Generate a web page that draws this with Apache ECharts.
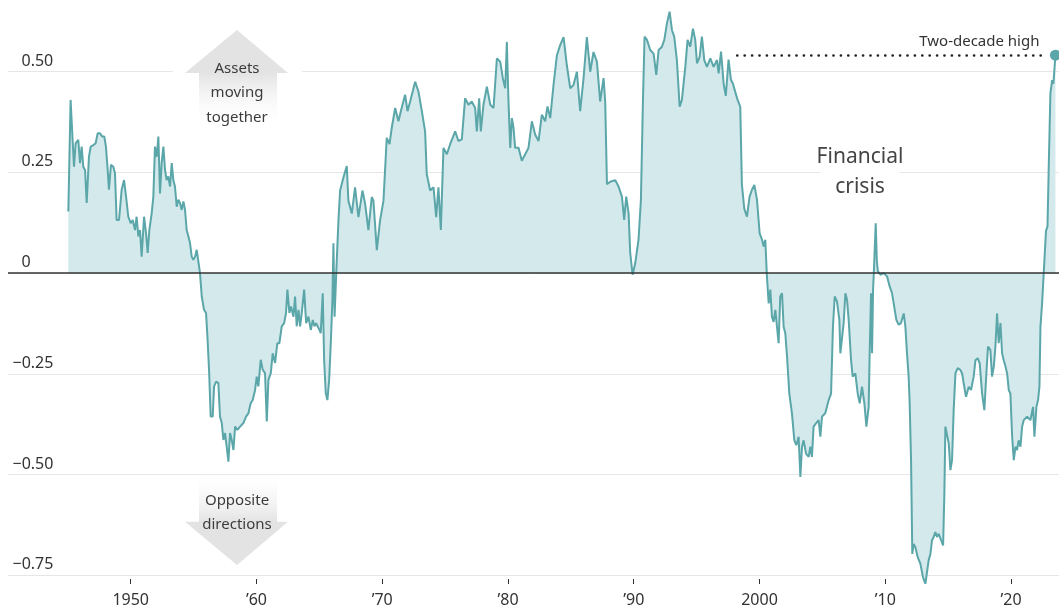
<!DOCTYPE html>
<html><head><meta charset="utf-8">
<script src="https://cdn.jsdelivr.net/npm/echarts@6/dist/echarts.min.js"></script>
<style>html,body{margin:0;padding:0;background:#fff}#c{width:1059px;height:614px}</style>
</head><body><div id="c"></div>
<script>
// Correlation of stocks and bonds (rolling), year vs value
const years = [
1945.04,1945.22,1945.38,1945.49,1945.62,1945.83,1945.97,1946.10,1946.23,1946.37,
1946.50,1946.68,1946.82,1947.03,1947.21,1947.37,1947.56,1947.74,1947.90,1948.03,
1948.17,1948.27,1948.43,1948.62,1948.75,1948.88,1949.07,1949.28,1949.47,1949.63,
1949.81,1950.00,1950.16,1950.34,1950.47,1950.61,1950.74,1950.87,1951.06,1951.22,
1951.35,1951.48,1951.67,1951.80,1951.93,1952.07,1952.20,1952.33,1952.46,1952.60,
1952.73,1952.86,1952.99,1953.13,1953.26,1953.39,1953.52,1953.66,1953.79,1953.92,
1954.05,1954.19,1954.32,1954.45,1954.59,1954.72,1954.85,1954.98,1955.12,1955.25,1955.38,1955.51,
1955.65,1955.83,1955.99,1956.10,1956.23,1956.36,1956.52,1956.63,1956.79,1956.97,
1957.10,1957.24,1957.37,1957.50,1957.63,1957.77,1957.90,1958.03,1958.17,1958.30,
1958.48,1958.70,1958.96,1959.17,1959.36,1959.54,1959.70,1959.89,1960.02,1960.15,
1960.34,1960.50,1960.68,1960.82,1960.95,1961.14,1961.29,1961.48,1961.66,1961.82,
1962.01,1962.20,1962.35,1962.46,1962.62,1962.75,1962.94,1963.07,1963.20,1963.34,
1963.47,1963.60,1963.79,1963.95,1964.13,1964.32,1964.48,1964.61,1964.74,1964.87,1965.01,1965.11,
1965.27,1965.38,1965.51,1965.64,1965.78,1965.91,1966.04,1966.12,1966.21,1966.37,
1966.52,1966.65,1966.92,1967.18,1967.31,1967.58,1967.84,1968.11,1968.43,1968.64,
1968.90,1969.17,1969.30,1969.57,1969.83,1970.10,1970.36,1970.58,1970.76,1971.03,
1971.29,1971.48,1971.82,1972.01,1972.22,1972.62,1972.88,1973.15,1973.41,1973.54,
1973.81,1974.08,1974.29,1974.47,1974.66,1974.87,1975.14,1975.40,1975.80,1976.06,
1976.33,1976.59,1976.86,1977.12,1977.39,1977.52,1977.71,1977.84,1978.05,1978.32,
1978.59,1978.85,1979.12,1979.38,1979.59,1979.78,1979.91,1980.04,1980.18,1980.31,
1980.44,1980.57,1980.84,1981.10,1981.37,1981.63,1981.90,1982.16,1982.43,1982.69,
1982.96,1983.14,1983.36,1983.62,1983.89,1984.15,1984.42,1984.68,1984.95,1985.21,
1985.48,1985.74,1986.01,1986.27,1986.54,1986.80,1987.07,1987.33,1987.60,1987.73,1987.87,
1988.13,1988.53,1988.79,1989.06,1989.24,1989.40,1989.59,1989.72,1989.91,1990.12,
1990.38,1990.57,1990.73,1990.86,1991.05,1991.31,1991.58,1991.79,1991.98,1992.24,1992.43,
1992.64,1992.85,1993.04,1993.22,1993.43,1993.65,1993.83,1994.10,1994.28,1994.49,
1994.71,1994.89,1995.03,1995.24,1995.42,1995.61,1995.82,1996.09,1996.35,1996.62,1996.75,
1996.94,1997.15,1997.32,1997.54,1997.73,1997.89,1998.07,1998.26,1998.47,1998.60,
1998.79,1999.00,1999.21,1999.40,1999.59,1999.80,2000.01,2000.20,2000.33,2000.46,2000.59,
2000.73,2000.86,2000.99,2001.12,2001.26,2001.39,2001.52,2001.65,2001.79,2001.92,
2002.05,2002.19,2002.37,2002.58,2002.77,2002.93,2003.11,2003.25,2003.38,2003.51,
2003.70,2003.91,2004.04,2004.17,2004.30,2004.49,2004.70,2004.84,2004.97,2005.23,
2005.50,2005.69,2005.84,2005.98,2006.16,2006.35,2006.43,2006.56,2006.69,2006.83,
2006.96,2007.09,2007.28,2007.41,2007.62,2007.81,2007.97,2008.15,2008.34,2008.50,
2008.68,2008.76,2008.87,2008.95,2009.03,2009.09,2009.24,2009.33,2009.41,2009.61,2009.87,
2010.14,2010.35,2010.54,2010.67,2010.88,2011.07,2011.25,2011.47,2011.60,2011.73,
2011.86,2011.94,2012.05,2012.15,2012.26,2012.39,2012.58,2012.79,2013.00,2013.19,
2013.32,2013.45,2013.59,2013.72,2013.85,2013.98,2014.12,2014.25,2014.44,2014.60,
2014.70,2014.78,2014.92,2015.05,2015.18,2015.31,2015.44,2015.58,2015.76,2015.97,
2016.11,2016.24,2016.42,2016.64,2016.82,2017.03,2017.17,2017.35,2017.51,2017.70,
2017.88,2018.04,2018.17,2018.36,2018.49,2018.63,2018.76,2018.89,2019.02,2019.16,
2019.29,2019.42,2019.56,2019.69,2019.82,2019.95,2020.09,2020.22,2020.35,2020.48,
2020.61,2020.75,2020.88,2021.01,2021.28,2021.54,2021.75,2021.86,2022.02,2022.15,
2022.26,2022.34,2022.47,2022.60,2022.78,2022.90,2023.00,2023.13,2023.27,2023.37,2023.53
];
const corr = [
0.153,0.430,0.331,0.264,0.322,0.331,0.273,0.314,0.264,0.256,
0.174,0.289,0.314,0.318,0.322,0.347,0.347,0.339,0.339,0.314,
0.256,0.207,0.269,0.264,0.248,0.132,0.132,0.207,0.231,0.190,
0.140,0.124,0.132,0.107,0.140,0.091,0.107,0.041,0.140,0.099,
0.050,0.107,0.149,0.190,0.314,0.289,0.339,0.198,0.273,0.314,
0.256,0.231,0.240,0.215,0.273,0.231,0.215,0.165,0.182,0.174,
0.157,0.178,0.157,0.107,0.091,0.074,0.041,0.033,0.041,0.058,0.062,0.000,
-0.058,-0.091,-0.099,-0.157,-0.240,-0.356,-0.356,-0.281,-0.269,-0.273,
-0.356,-0.372,-0.414,-0.397,-0.430,-0.468,-0.397,-0.414,-0.439,-0.381,
-0.389,-0.381,-0.372,-0.356,-0.348,-0.323,-0.315,-0.290,-0.257,-0.281,
-0.215,-0.240,-0.248,-0.368,-0.265,-0.248,-0.199,-0.223,-0.174,-0.174,
-0.132,-0.124,-0.099,-0.041,-0.099,-0.083,-0.108,-0.058,-0.132,-0.091,
-0.132,-0.099,-0.041,-0.124,-0.108,-0.141,-0.116,-0.132,-0.124,-0.132,-0.141,-0.149,
-0.050,-0.215,-0.298,-0.315,-0.265,-0.174,-0.066,0.074,-0.108,0.020,
0.131,0.205,0.238,0.266,0.180,0.148,0.213,0.139,0.205,0.172,
0.107,0.189,0.180,0.057,0.131,0.180,0.336,0.320,0.361,0.410,
0.377,0.402,0.443,0.402,0.426,0.475,0.451,0.402,0.352,0.246,
0.205,0.213,0.139,0.213,0.107,0.311,0.295,0.320,0.352,0.328,
0.332,0.434,0.418,0.426,0.410,0.352,0.434,0.352,0.418,0.463,
0.418,0.410,0.533,0.525,0.484,0.459,0.574,0.426,0.311,0.385,
0.361,0.311,0.311,0.279,0.295,0.311,0.377,0.344,0.328,0.393,
0.377,0.414,0.385,0.467,0.541,0.566,0.586,0.516,0.459,0.467,
0.500,0.402,0.484,0.586,0.500,0.549,0.525,0.426,0.484,0.426,0.221,
0.227,0.231,0.215,0.190,0.132,0.190,0.149,0.050,-0.004,0.025,
0.083,0.182,0.426,0.587,0.579,0.554,0.545,0.492,0.554,0.562,0.579,
0.620,0.649,0.603,0.587,0.529,0.413,0.430,0.512,0.579,0.562,
0.607,0.579,0.521,0.537,0.587,0.529,0.512,0.533,0.512,0.529,0.496,
0.550,0.470,0.440,0.530,0.480,0.470,0.450,0.430,0.413,0.220,
0.160,0.140,0.190,0.207,0.219,0.182,0.099,0.083,0.066,0.083,-0.008,
-0.075,-0.041,-0.108,-0.121,-0.091,-0.133,-0.174,-0.058,-0.050,-0.133,
-0.149,-0.207,-0.299,-0.348,-0.415,-0.427,-0.406,-0.506,-0.431,-0.415,
-0.448,-0.456,-0.431,-0.456,-0.381,-0.373,-0.365,-0.406,-0.356,-0.348,
-0.315,-0.299,-0.133,-0.058,-0.070,-0.116,-0.199,-0.199,-0.124,-0.050,
-0.066,-0.116,-0.216,-0.257,-0.249,-0.299,-0.323,-0.282,-0.323,-0.381,
-0.332,-0.199,-0.050,-0.199,-0.041,0.000,0.124,0.030,0.005,-0.004,0.000,
-0.008,-0.033,-0.050,-0.075,-0.116,-0.128,-0.124,-0.100,-0.133,-0.199,
-0.257,-0.323,-0.464,-0.697,-0.672,-0.680,-0.705,-0.721,-0.755,-0.771,
-0.771,-0.713,-0.697,-0.663,-0.655,-0.643,-0.655,-0.647,-0.663,-0.676,
-0.547,-0.381,-0.377,-0.423,-0.489,-0.464,-0.340,-0.249,-0.236,-0.240,
-0.249,-0.274,-0.307,-0.282,-0.290,-0.257,-0.216,-0.211,-0.224,-0.299,
-0.340,-0.249,-0.182,-0.191,-0.257,-0.232,-0.182,-0.100,-0.174,-0.124,
-0.199,-0.216,-0.232,-0.249,-0.290,-0.299,-0.406,-0.464,-0.431,-0.439,
-0.415,-0.431,-0.381,-0.365,-0.356,-0.365,-0.332,-0.406,-0.332,-0.315,
-0.282,-0.133,-0.075,0.000,0.105,0.116,0.264,0.446,0.479,0.470,0.541
];
const xTickYears = [1950,1960,1970,1980,1990,2000,2010,2020];
const xTickLabels = ['1950','\u201960','\u201970','\u201980','\u201990','2000','\u201910','\u201920'];
const yTickValues = [-0.75,-0.5,-0.25,0,0.25,0.5];
const yTickLabels = ['\u22120.75','\u22120.50','\u22120.25','0','0.25','0.50'];
const highLevel = 0.54;
const highStart = 1998.23;
const highEnd = 2022.74;
const highLabel = 'Two-decade high';

const TEAL = '#5ba6a9';
const FILL = '#d4e9ec';
const FONT = '"Noto Sans", sans-serif';

const seriesData = years.map((y, i) => [y, corr[i]]);
const lastIdx = years.length - 1;

const chart = echarts.init(document.getElementById('c'), null, {renderer: 'canvas'});
const arrowGray = '#e3e3e3';
chart.setOption({
  animation: false,
  backgroundColor: '#ffffff',
  grid: {left: 8, right: 0, top: -29, height: 705, containLabel: false, outerBoundsMode: 'none'},
  xAxis: {
    type: 'value', min: 1940.243, max: 2023.815,
    offset: -97,
    axisLine: {show: false, onZero: false},
    splitLine: {show: false},
    axisTick: {show: true, customValues: xTickYears, length: 5, lineStyle: {color: '#333', width: 1}},
    axisLabel: {
      customValues: xTickYears, margin: 13, fontSize: 16, color: '#333', fontFamily: FONT,
      formatter: v => { const i = xTickYears.indexOf(Math.round(v)); return i >= 0 ? xTickLabels[i] : ''; }
    }
  },
  yAxis: {
    type: 'value', min: -1, max: 0.75, interval: 0.25,
    axisLine: {show: false}, axisTick: {show: false},
    splitLine: {show: true, lineStyle: {color: '#e6e6e6', width: 1}},
    axisLabel: {
      inside: true, margin: 4.5, verticalAlign: 'bottom', align: 'left',
      fontSize: 16, color: '#333', fontFamily: FONT,
      formatter: v => {
        const i = yTickValues.findIndex(t => Math.abs(t - v) < 1e-6);
        if (i < 0) return '';
        return (v < 0 ? '{n|' : '{p|') + yTickLabels[i] + '}';
      },
      rich: {
        n: {fontSize: 16, color: '#333', fontFamily: FONT, lineHeight: 21},
        p: {fontSize: 16, color: '#333', fontFamily: FONT, lineHeight: 21, padding: [0, 0, 0, 9]}
      }
    }
  },
  series: [{
    type: 'line', data: seriesData, showSymbol: false, symbol: 'none',
    lineStyle: {color: TEAL, width: 2},
    areaStyle: {color: FILL, opacity: 1, origin: 0},
    z: 3,
    markLine: {
      silent: true, symbol: ['none', 'none'], animation: false,
      data: [
        {yAxis: 0, lineStyle: {color: '#333', width: 1.5, type: 'solid'}, label: {show: false}},
        [
          {coord: [highStart, highLevel], lineStyle: {color: '#222', width: 2.6, type: [0.1, 7.3], cap: 'round'},
           label: {show: true, position: 'insideEndTop', formatter: highLabel, fontSize: 15, color: '#333', fontFamily: FONT, distance: 6}},
          {coord: [highEnd, highLevel]}
        ]
      ]
    },
    markPoint: {
      silent: true, symbol: 'circle', symbolSize: 11, animation: false,
      itemStyle: {color: TEAL},
      label: {show: false},
      data: [{coord: [years[lastIdx], corr[lastIdx]]}]
    }
  }],
  graphic: [
    // gaps in gridlines
    {type: 'rect', z: 10, shape: {x: 173, y: 64, width: 129, height: 14}, style: {fill: '#fff'}},
    {type: 'rect', z: 10, shape: {x: 820, y: 165, width: 80, height: 16}, style: {fill: '#fff'}},
    // up arrow
    {type: 'polygon', z: 11, shape: {points: [[185, 73], [237, 30], [288, 73]]}, style: {fill: arrowGray}},
    {type: 'rect', z: 11, shape: {x: 199, y: 73, width: 78, height: 56},
     style: {fill: new echarts.graphic.LinearGradient(0, 0, 0, 1, [{offset: 0, color: arrowGray}, {offset: 1, color: 'rgba(255,255,255,0)'}])}},
    {type: 'text', z: 12, x: 237, y: 56,
     style: {text: 'Assets\nmoving\ntogether', textAlign: 'center', textVerticalAlign: 'top', fontSize: 15, lineHeight: 24.5, fill: '#3c3c3c', fontFamily: FONT}},
    // down arrow
    {type: 'rect', z: 11, shape: {x: 199, y: 470, width: 78, height: 52},
     style: {fill: new echarts.graphic.LinearGradient(0, 0, 0, 1, [{offset: 0, color: 'rgba(255,255,255,0)'}, {offset: 1, color: arrowGray}])}},
    {type: 'polygon', z: 11, shape: {points: [[185, 521.7], [288, 521.7], [237, 565]]}, style: {fill: arrowGray}},
    {type: 'text', z: 12, x: 237, y: 488.5,
     style: {text: 'Opposite\ndirections', textAlign: 'center', textVerticalAlign: 'top', fontSize: 15, lineHeight: 24.3, fill: '#3c3c3c', fontFamily: FONT}},
    // financial crisis
    {type: 'text', z: 12, x: 860, y: 141.7,
     style: {text: 'Financial\ncrisis', textAlign: 'center', textVerticalAlign: 'top', fontSize: 21, lineHeight: 30, fill: '#444', fontFamily: FONT}}
  ]
});
</script>
</body></html>
